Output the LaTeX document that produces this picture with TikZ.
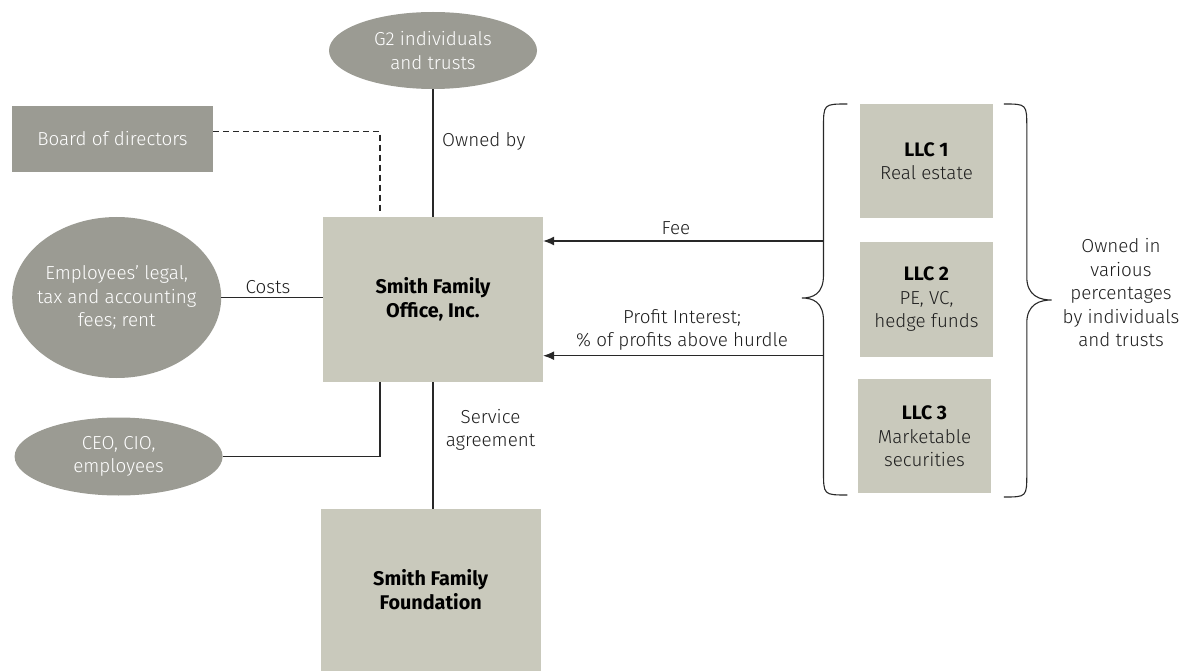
\documentclass[tikz,border=0pt]{standalone}
\usepackage{fontspec}
\setmainfont{Fira Sans Light}[BoldFont={Fira Sans Bold}]
\usetikzlibrary{shapes.geometric,arrows.meta}
\definecolor{darkbox}{RGB}{155,155,147}
\definecolor{lightbox}{RGB}{201,201,188}
\definecolor{linec}{RGB}{40,40,40}
\definecolor{txt}{RGB}{30,30,30}
\begin{document}
\begin{tikzpicture}[x=1pt,y=-1pt,
  every node/.style={font=\fontsize{18.8}{23.5}\selectfont, align=center, inner sep=0pt, text=txt},
  dshape/.style={fill=darkbox, draw=none, rectangle},
  ell/.style={fill=darkbox, draw=none, ellipse},
  lab/.style={text=white},
  lbox/.style={fill=lightbox, draw=none, rectangle},
  bold/.style={font=\fontsize{19.8}{24}\selectfont\bfseries, text=black},
  conn/.style={draw=linec, line width=1.1pt},
  arr/.style={conn, -{Latex[length=11pt,width=9pt]}}]
\useasboundingbox (0,0) rectangle (1181,671);

% shapes
\node[ell, minimum width=208pt, minimum height=77pt,
  label={[lab]center:G2 individuals\\and trusts}] (g2) at (433,50.5) {};
\node[dshape, minimum width=200.6pt, minimum height=66pt, text=white] (board) at (112.5,139) {Board of directors};
\node[ell, minimum width=209pt, minimum height=161pt,
  label={[lab]center:Employees’ legal,\\tax and accounting\\fees; rent}] (emp) at (116.7,297.5) {};
\node[ell, minimum width=208pt, minimum height=78pt,
  label={[lab]center:CEO, CIO,\\employees}] (ceo) at (118.6,456.5) {};
\node[lbox, bold, minimum width=220pt, minimum height=165pt] (office) at (433,299.3) {Smith Family\\Office, Inc.};
\node[lbox, bold, minimum width=220pt, minimum height=162pt] (found) at (430.7,590) {Smith Family\\Foundation};
\node[lbox, minimum width=133pt, minimum height=114.5pt] (llc1) at (926.5,161.2) {{\fontsize{19.5}{23.5}\selectfont\bfseries\color{black}LLC 1}\\Real estate};
\node[lbox, minimum width=133pt, minimum height=114.5pt] (llc2) at (926.5,299.5) {{\fontsize{19.5}{23.5}\selectfont\bfseries\color{black}LLC 2}\\PE, VC,\\hedge funds};
\node[lbox, minimum width=133pt, minimum height=114.5pt] (llc3) at (924.5,436.2) {{\fontsize{19.5}{23.5}\selectfont\bfseries\color{black}LLC 3}\\Marketable\\securities};

% connectors
\draw[conn] (g2.south) -- (office.north);
\coordinate (dashend) at (380,212);
\draw[conn, dash pattern=on 6pt off 4pt] ([yshift=7.3pt]board.east) -| (dashend);
\draw[conn] (emp.east) -- (emp.east -| office.west);
\path (office.south) ++(-53,0) coordinate (ceoj);
\draw[conn] (ceo.east) -| (ceoj);
\draw[conn] (office.south) -- (office.south |- found.north);

% braces
\draw[conn] (847.4,104) .. controls (823.5,104) .. (823.5,128) -- (823.5,275)
  .. controls (823.5,294) and (813,298) .. (801.8,298)
  .. controls (813,298) and (823.5,302) .. (823.5,321) -- (823.5,471)
  .. controls (823.5,495) .. (847.4,495);
\draw[conn] (1003.8,104) .. controls (1026.8,104) .. (1026.8,128) -- (1026.8,277)
  .. controls (1026.8,296) and (1040,300) .. (1051.5,300)
  .. controls (1040,300) and (1026.8,304) .. (1026.8,323) -- (1026.8,473)
  .. controls (1026.8,497) .. (1003.8,497);

\coordinate (feeS) at (823.5,241);
\coordinate (profS) at (823.5,355.7);
\draw[arr] (feeS) -- (feeS -| office.east);
\draw[arr] (profS) -- (profS -| office.east);

% labels
\node[anchor=west] (ownedby) at (442,141) {Owned by};
\node (costs) at (268,287) {Costs};
\node (svc) at (490.5,430) {Service\\agreement};
\node (fee) at (676,228) {Fee};
\node (profit) at (682,330) {Profit Interest;\\\% of profits above hurdle};
\node (owned) at (1121,293) {Owned in\\various\\percentages\\by individuals\\and trusts};
\end{tikzpicture}
\end{document}
